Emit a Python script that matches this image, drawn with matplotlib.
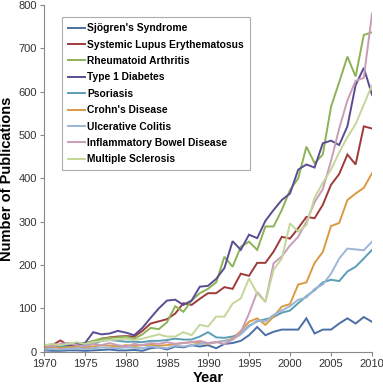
import matplotlib
matplotlib.use("Agg")
import matplotlib.pyplot as plt

years = list(range(1970, 2011))

sjogren = [3, 2, 2, 3, 3, 2, 3, 4, 5, 3, 3, 4, 2, 8, 10, 5, 12, 10, 15, 12,
           15, 8, 18, 20, 25, 38, 57, 38, 46, 51, 51, 51, 77, 42, 51, 51, 65, 77, 65, 80, 69]
sle = [12, 15, 26, 14, 16, 18, 22, 30, 33, 35, 36, 35, 48, 65, 70, 75, 88, 112, 108, 122,
       135, 135, 149, 145, 180, 175, 205, 205, 231, 265, 261, 285, 311, 308, 339, 385, 410, 455, 432, 520, 515]
ra = [12, 14, 10, 16, 18, 20, 25, 30, 32, 33, 35, 30, 40, 55, 52, 68, 105, 92, 118, 135,
      145, 160, 219, 196, 242, 254, 235, 289, 289, 327, 373, 400, 473, 435, 455, 565, 622, 681, 635, 731, 737]
t1d = [10, 12, 14, 15, 18, 20, 45, 40, 42, 48, 44, 38, 55, 78, 100, 118, 120, 108, 118, 150,
       152, 168, 193, 255, 235, 270, 262, 302, 327, 350, 365, 420, 432, 425, 481, 487, 477, 520, 615, 655, 593]
psoriasis = [8, 10, 12, 10, 12, 15, 18, 25, 27, 25, 23, 23, 22, 25, 25, 27, 30, 28, 28, 35,
             45, 33, 32, 35, 42, 60, 70, 75, 80, 90, 95, 112, 128, 142, 160, 166, 163, 185, 196, 215, 235]
crohns = [10, 12, 8, 10, 12, 10, 12, 15, 14, 12, 15, 13, 15, 16, 14, 15, 18, 20, 22, 20,
          18, 22, 25, 30, 48, 69, 77, 62, 81, 104, 110, 155, 160, 205, 230, 290, 297, 350, 365, 378, 412]
uc = [5, 6, 5, 7, 8, 6, 8, 10, 9, 8, 10, 9, 8, 12, 10, 8, 14, 12, 15, 18,
      20, 22, 25, 28, 40, 58, 72, 70, 85, 95, 105, 120, 125, 145, 155, 180, 215, 238, 236, 234, 254]
ibd = [15, 12, 18, 20, 15, 12, 18, 15, 20, 15, 12, 18, 15, 20, 18, 22, 18, 20, 22, 25,
       20, 22, 18, 28, 45, 88, 138, 115, 204, 220, 245, 265, 300, 345, 375, 440, 515, 580, 625, 632, 780]
ms = [15, 18, 15, 18, 22, 18, 22, 25, 27, 28, 30, 27, 30, 35, 40, 35, 35, 45, 38, 62,
      58, 81, 81, 111, 123, 169, 134, 115, 189, 215, 296, 277, 292, 355, 390, 420, 460, 495, 525, 570, 615]

labels = ["Sjögren's Syndrome", "Systemic Lupus Erythematosus", "Rheumatoid Arthritis",
          "Type 1 Diabetes", "Psoriasis", "Crohn's Disease", "Ulcerative Colitis",
          "Inflammatory Bowel Disease", "Multiple Sclerosis"]
series = [sjogren, sle, ra, t1d, psoriasis, crohns, uc, ibd, ms]
colors = ["#4A6FA5", "#9E3B3A", "#8DB255", "#5A4C92", "#5B9DB8", "#DB9A42",
          "#9DB6D6", "#C99DB8", "#C3D79A"]

xticks = list(range(1970, 2011, 5))
yticks = list(range(0, 801, 100))

plt.rcParams['font.family'] = ['Liberation Sans', 'DejaVu Sans']

fig = plt.figure(figsize=(3.83, 3.85), dpi=100)
ax = fig.add_axes([44/383, 1-351.7/385, 328/383, 346.7/385])

for vals, lab, col in zip(series, labels, colors):
    ax.plot(years, vals, color=col, lw=1.4, label=lab, solid_joinstyle='miter')

ax.set_xlim(1970, 2010)
ax.set_ylim(0, 800)
ax.set_xticks(xticks)
ax.set_yticks(yticks)
ax.tick_params(axis='both', labelsize=8, length=3, width=0.8, color='#888888',
               labelcolor='#333333', direction='out', pad=2)
for s in ['top', 'right']:
    ax.spines[s].set_visible(False)
for s in ['left', 'bottom']:
    ax.spines[s].set_color('#888888')
    ax.spines[s].set_linewidth(0.8)

ax.set_xlabel('Year', fontsize=10.5, fontweight='bold')
ax.set_ylabel('Number of Publications', fontsize=10.5, fontweight='bold')
ax.xaxis.set_label_coords(0.5, -0.057)
ax.yaxis.set_label_coords(-0.09, 0.5)

leg = ax.legend(loc='upper left', bbox_to_anchor=(0.055, 0.965), borderaxespad=0,
                prop={'size': 7.4, 'weight': 'bold'}, handlelength=1.6,
                handletextpad=0.25, labelspacing=0.62, borderpad=0.6,
                fancybox=False, frameon=True)
leg.get_frame().set_edgecolor('#999999')
leg.get_frame().set_linewidth(0.8)

fig.savefig('out.png', dpi=100)
